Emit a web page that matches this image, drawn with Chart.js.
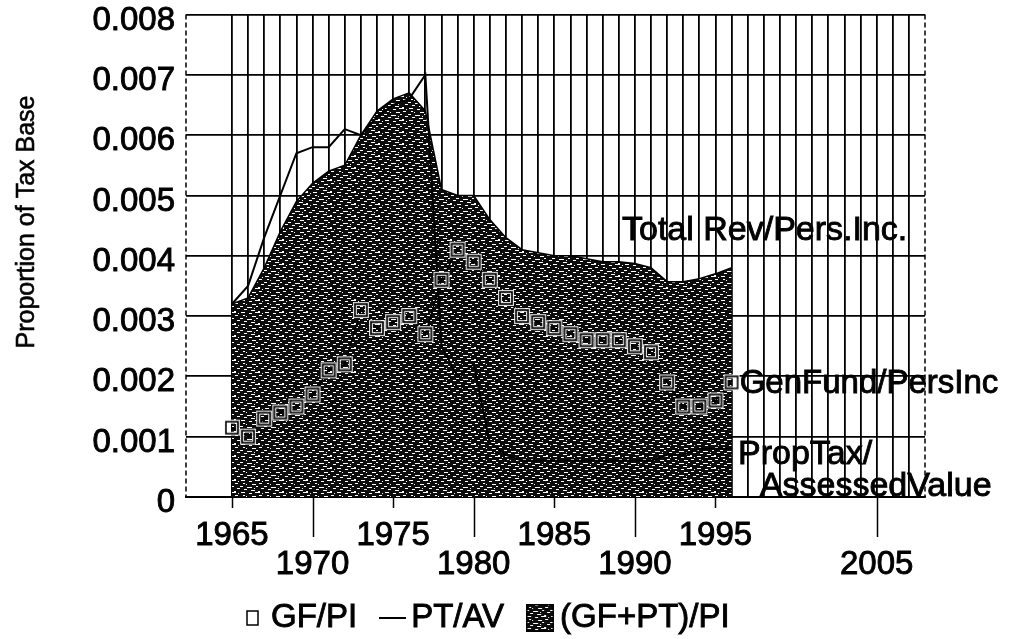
<!DOCTYPE html>
<html>
<head>
<meta charset="utf-8">
<script src="https://cdn.jsdelivr.net/npm/chart.js@4.4.1/dist/chart.umd.min.js"></script>
<style>
    html, body { margin: 0; padding: 0; background: #fff; }
    #contenedor { width: 1015px; height: 639px; }
</style>
</head>
<body>
<div id="contenedor"><canvas id="grafico"></canvas></div>
<script>
var anios = [1965, 1966, 1967, 1968, 1969, 1970, 1971, 1972, 1973, 1974, 1975, 1976, 1977, 1978, 1979, 1980,
             1981, 1982, 1983, 1984, 1985, 1986, 1987, 1988, 1989, 1990, 1991, 1992, 1993, 1994, 1995, 1996];

// GF/PI (cuadros)
var gfPi = [0.00115, 0.0010, 0.0013, 0.0014, 0.0015, 0.0017, 0.0021, 0.0022, 0.0031, 0.0028, 0.0029, 0.0030, 0.0027, 0.0036, 0.0041, 0.0039,
            0.0036, 0.0033, 0.0030, 0.0029, 0.0028, 0.0027, 0.0026, 0.0026, 0.0026, 0.0025, 0.0024, 0.0019, 0.0015, 0.0015, 0.0016, 0.0019];

// PT/AV (linea)
var ptAv = [0.0032, 0.0035, 0.0043, 0.0050, 0.0057, 0.0058, 0.0058, 0.0061, 0.0060, 0.0063, 0.0065, 0.0066, 0.0070, 0.0025, 0.0020, 0.0022,
            0.0009, 0.0007, 0.0006, 0.0006, 0.0006, 0.0006, 0.0006, 0.0006, 0.0006, 0.0006, 0.0006, 0.0007, 0.0007, 0.0008, 0.0008, 0.0008];

// (GF+PT)/PI (area)
var totalPi = [0.0032, 0.0033, 0.0038, 0.0044, 0.0049, 0.0052, 0.0054, 0.0055, 0.0060, 0.0064, 0.0066, 0.0067, 0.0064, 0.0051, 0.0050, 0.0050,
               0.0046, 0.0043, 0.0041, 0.00405, 0.0040, 0.0040, 0.00395, 0.0039, 0.0039, 0.00387, 0.0038, 0.00357, 0.00357, 0.00362, 0.0037, 0.0038];

var etiquetasArriba = [1965, 1975, 1985, 1995];
var etiquetasAbajo = [1970, 1980, 1990, 2005];
var nombresSeries = ['GF/PI', 'PT/AV', '(GF+PT)/PI'];
var tituloEjeY = 'Proportion of Tax Base';
var notas = ['Total Rev/Pers.Inc.', 'GenFund/PersInc', 'PropTax/', 'AssessedValue'];

var FUENTE = '"Liberation Sans", Arial, Helvetica, sans-serif';

// lineas verticales de la grilla, una por año
var lineasVerticales = [];
for (var a = 1965; a <= 2007; a++) lineasVerticales.push(a);

var lienzo = document.getElementById('grafico');
var ctx = lienzo.getContext('2d');

function crearTextura() {
    var c = document.createElement('canvas');
    c.width = 24; c.height = 12;
    var g = c.getContext('2d');
    g.fillStyle = '#0c0c0c';
    g.fillRect(0, 0, 24, 12);
    g.fillStyle = '#fff';
    var rayas = [[1, 0, 4], [9, 1, 3], [15, 0, 5], [3, 3, 2], [12, 4, 4], [19, 3, 3], [0, 6, 3], [7, 7, 5],
                 [16, 6, 2], [21, 8, 3], [4, 9, 3], [11, 10, 4], [18, 11, 2], [6, 4, 1], [22, 1, 1], [14, 8, 1]];
    rayas.forEach(function(r) { g.fillRect(r[0], r[1], r[2], 1); });
    return c;
}

var texturaCanvas = crearTextura();
var textura = ctx.createPattern(texturaCanvas, 'repeat');

function crearCuadro() {
    var c = document.createElement('canvas');
    c.width = 18; c.height = 18;
    var g = c.getContext('2d');
    g.strokeStyle = 'rgba(255,255,255,0.85)';
    g.lineWidth = 4;
    g.strokeRect(3, 3, 12, 12);
    g.strokeStyle = '#000';
    g.lineWidth = 1.6;
    g.strokeRect(3, 3, 12, 12);
    return c;
}

function iconoCuadro() {
    var c = document.createElement('canvas');
    c.width = 13; c.height = 16;
    var g = c.getContext('2d');
    g.fillStyle = '#fff';
    g.fillRect(0, 0, 13, 16);
    g.strokeStyle = '#000';
    g.lineWidth = 1.5;
    g.strokeRect(1, 1, 11, 14);
    return c;
}

function iconoLinea() {
    var c = document.createElement('canvas');
    c.width = 27; c.height = 3;
    var g = c.getContext('2d');
    g.fillStyle = '#000';
    g.fillRect(0, 0, 27, 2);
    return c;
}

function iconoArea() {
    var c = document.createElement('canvas');
    c.width = 28; c.height = 28;
    var g = c.getContext('2d');
    g.fillStyle = g.createPattern(texturaCanvas, 'repeat');
    g.fillRect(0, 0, 28, 28);
    g.strokeStyle = '#000';
    g.lineWidth = 1.5;
    g.strokeRect(0.75, 0.75, 26.5, 26.5);
    return c;
}

var iconos = [iconoCuadro(), iconoLinea(), iconoArea()];

function puntos(valores) {
    return anios.map(function(anio, i) { return { x: anio, y: valores[i] }; });
}

function texto(c, t, x, y, grosor) {
    c.lineWidth = grosor;
    c.strokeText(t, x, y);
    c.fillText(t, x, y);
}

// marcas de los ticks, bordes punteados, titulo del eje y, notas y leyenda
var extras = {
    id: 'extras',
    afterDraw: function(chart) {
        var c = chart.ctx;
        var area = chart.chartArea;
        var x = chart.scales.x, y = chart.scales.y;
        c.save();
        c.strokeStyle = '#000';
        c.lineWidth = 1.5;
        etiquetasArriba.concat(etiquetasAbajo).forEach(function(v) {
            var px = Math.round(x.getPixelForValue(v)) + 0.5;
            var largo = etiquetasAbajo.indexOf(v) >= 0 ? 40 : 11;
            c.beginPath();
            c.moveTo(px, area.bottom);
            c.lineTo(px, area.bottom + largo);
            c.stroke();
        });
        c.setLineDash([5, 3]);
        c.beginPath();
        c.moveTo(area.right, area.top);
        c.lineTo(area.right, area.bottom);
        c.moveTo(area.left, area.top);
        c.lineTo(area.left, area.bottom);
        c.stroke();
        c.setLineDash([]);

        c.fillStyle = '#000';
        c.strokeStyle = '#000';
        c.translate(27, 222);
        c.rotate(-Math.PI / 2);
        c.textAlign = 'center';
        c.textBaseline = 'middle';
        c.font = '25px ' + FUENTE;
        texto(c, tituloEjeY, 0, 0, 0.6);
        c.restore();

        c.save();
        c.fillStyle = '#000';
        c.strokeStyle = '#000';
        c.textAlign = 'left';
        c.textBaseline = 'middle';
        c.font = '34px ' + FUENTE;
        texto(c, notas[0], x.getPixelForValue(1989.2), y.getPixelForValue(0.00442), 0.9);
        c.font = '33px ' + FUENTE;
        texto(c, notas[1], x.getPixelForValue(1996.5), y.getPixelForValue(0.00187), 0.9);
        c.font = '34px ' + FUENTE;
        texto(c, notas[2], x.getPixelForValue(1996.4), y.getPixelForValue(0.0007), 0.9);
        texto(c, notas[3], x.getPixelForValue(1997.75), y.getPixelForValue(0.00018), 0.9);

        // leyenda
        var yc = 618;
        var px = 246;
        var separacion = [12, 5, 6];
        c.font = '33px ' + FUENTE;
        chart.data.datasets.forEach(function(ds, i) {
            var ic = iconos[i];
            c.drawImage(ic, px, Math.round(yc - ic.height / 2));
            px += ic.width + separacion[i];
            texto(c, ds.label, px, yc, 0.9);
            px += c.measureText(ds.label).width + 22;
        });
        c.restore();
    }
};

var chartTasas = new Chart(ctx, {
    type: 'line',
    data: {
        datasets: [{
            label: nombresSeries[0],
            data: puntos(gfPi),
            borderColor: '#000',
            borderWidth: 1.5,
            pointStyle: crearCuadro(),
            pointRadius: 7,
            fill: false,
            tension: 0
        }, {
            label: nombresSeries[1],
            data: puntos(ptAv),
            borderColor: '#000',
            borderWidth: 2,
            pointRadius: 0,
            fill: false,
            tension: 0
        }, {
            label: nombresSeries[2],
            data: puntos(totalPi),
            borderColor: '#000',
            borderWidth: 1.5,
            backgroundColor: textura,
            pointRadius: 0,
            fill: 'origin',
            tension: 0
        }]
    },
    options: {
        responsive: true,
        maintainAspectRatio: false,
        animation: false,
        events: [],
        layout: {
            padding: { left: 0, right: 90, top: 0, bottom: 44 }
        },
        scales: {
            x: {
                type: 'linear',
                min: 1962.15,
                max: 2008,
                afterBuildTicks: function(eje) {
                    eje.ticks = lineasVerticales.map(function(v) { return { value: v }; });
                },
                afterFit: function(eje) {
                    eje.height = 98;
                },
                grid: {
                    color: '#000',
                    lineWidth: 1.8,
                    drawTicks: false
                },
                border: { display: true, color: '#000', width: 2 },
                ticks: {
                    autoSkip: false,
                    maxRotation: 0,
                    minRotation: 0,
                    padding: 24,
                    color: '#000',
                    textStrokeColor: '#000',
                    textStrokeWidth: 0.9,
                    font: { family: FUENTE, size: 33, lineHeight: 0.88 },
                    callback: function(v) {
                        if (etiquetasArriba.indexOf(v) >= 0) return String(v);
                        if (etiquetasAbajo.indexOf(v) >= 0) return ['', String(v)];
                        return '';
                    }
                }
            },
            y: {
                min: 0,
                max: 0.008,
                afterFit: function(eje) {
                    eje.width = 186;
                },
                grid: {
                    color: '#000',
                    lineWidth: 1.8,
                    drawTicks: false
                },
                border: { display: false },
                ticks: {
                    stepSize: 0.001,
                    padding: 11,
                    labelOffset: 6,
                    color: '#000',
                    textStrokeColor: '#000',
                    textStrokeWidth: 0.9,
                    font: { family: FUENTE, size: 33, lineHeight: 0.21 },
                    callback: function(v) {
                        return v === 0 ? '0' : v.toFixed(3);
                    }
                }
            }
        },
        plugins: {
            tooltip: { enabled: false },
            legend: { display: false }
        }
    },
    plugins: [extras]
});
</script>
</body>
</html>
